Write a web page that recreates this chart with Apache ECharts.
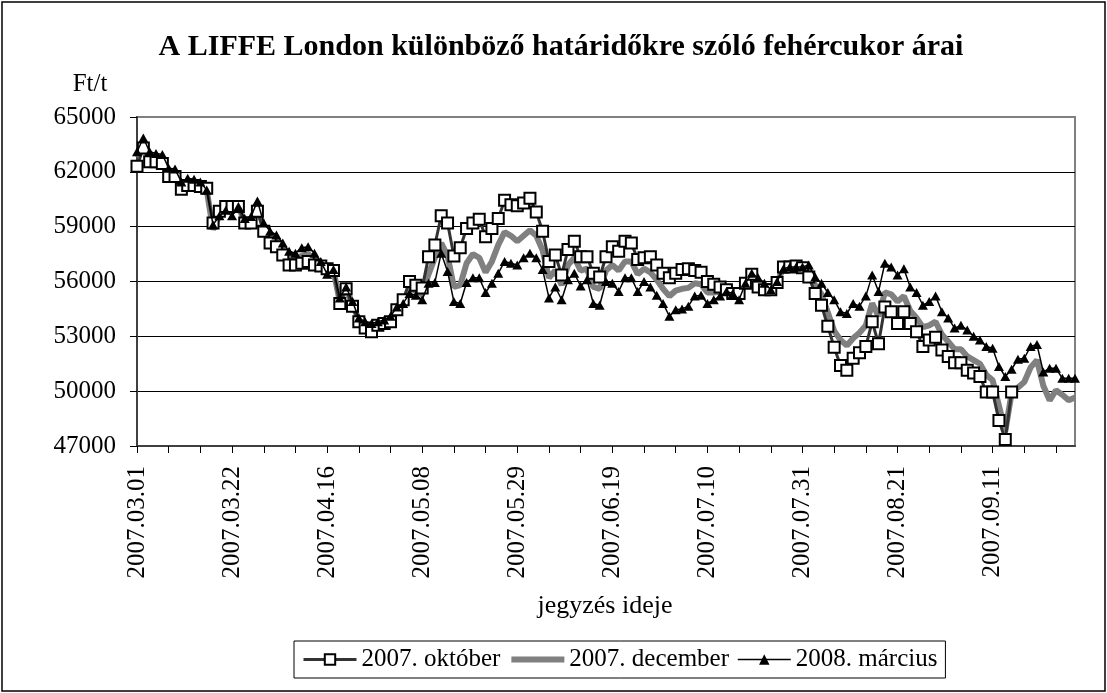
<!DOCTYPE html>
<html>
<head>
<meta charset="utf-8">
<script src="https://cdn.jsdelivr.net/npm/echarts@6/dist/echarts.min.js"></script>
<style>
html,body{margin:0;padding:0;background:#fff;}
#chart{width:1107px;height:693px;}
</style>
</head>
<body>
<div id="chart"></div>
<script>
// Trading days (categories)
const categories = [
 '2007.03.01','2007.03.02','2007.03.05','2007.03.06','2007.03.07','2007.03.08','2007.03.09','2007.03.12','2007.03.13','2007.03.14',
 '2007.03.15','2007.03.16','2007.03.19','2007.03.20','2007.03.21','2007.03.22','2007.03.23','2007.03.26','2007.03.27','2007.03.28',
 '2007.03.29','2007.03.30','2007.04.02','2007.04.03','2007.04.04','2007.04.05','2007.04.10','2007.04.11','2007.04.12','2007.04.13',
 '2007.04.16','2007.04.17','2007.04.18','2007.04.19','2007.04.20','2007.04.23','2007.04.24','2007.04.25','2007.04.26','2007.04.27',
 '2007.04.30','2007.05.01','2007.05.02','2007.05.03','2007.05.04','2007.05.08','2007.05.09','2007.05.10','2007.05.11','2007.05.14',
 '2007.05.15','2007.05.16','2007.05.17','2007.05.18','2007.05.21','2007.05.22','2007.05.23','2007.05.24','2007.05.25','2007.05.28',
 '2007.05.29','2007.05.30','2007.05.31','2007.06.01','2007.06.04','2007.06.05','2007.06.06','2007.06.07','2007.06.08','2007.06.11',
 '2007.06.12','2007.06.13','2007.06.14','2007.06.15','2007.06.18','2007.06.19','2007.06.20','2007.06.21','2007.06.22','2007.06.25',
 '2007.06.26','2007.06.27','2007.06.28','2007.06.29','2007.07.02','2007.07.03','2007.07.04','2007.07.05','2007.07.06','2007.07.09',
 '2007.07.10','2007.07.11','2007.07.12','2007.07.13','2007.07.16','2007.07.17','2007.07.18','2007.07.19','2007.07.20','2007.07.23',
 '2007.07.24','2007.07.25','2007.07.26','2007.07.27','2007.07.30','2007.07.31','2007.08.01','2007.08.02','2007.08.03','2007.08.06',
 '2007.08.07','2007.08.08','2007.08.09','2007.08.10','2007.08.13','2007.08.14','2007.08.15','2007.08.16','2007.08.17','2007.08.20',
 '2007.08.21','2007.08.22','2007.08.23','2007.08.24','2007.08.27','2007.08.28','2007.08.29','2007.08.30','2007.08.31','2007.09.03',
 '2007.09.04','2007.09.05','2007.09.06','2007.09.07','2007.09.10','2007.09.11','2007.09.12','2007.09.13','2007.09.14','2007.09.17',
 '2007.09.18','2007.09.19','2007.09.20','2007.09.21','2007.09.24','2007.09.25','2007.09.26','2007.09.27','2007.09.28'
];

const seriesNames = ['2007. október', '2007. december', '2008. március'];

const oct2007 = [
 62300,63300,62550,62550,62450,61750,61750,61050,61250,61250,
 61200,61100,59200,59850,60100,60100,60100,59200,59200,59850,
 58750,58100,57900,57450,56900,56900,57000,57100,56900,56850,
 56700,56600,54800,55600,54650,53800,53450,53250,53600,53700,
 53800,54450,55000,56000,55800,55650,57350,58000,59600,59200,
 57400,57850,58900,59200,59400,58450,58900,59450,60450,60200,
 60150,60300,60550,59800,58750,57100,57450,56350,57750,58200,
 57350,57350,56450,56250,57350,57900,57650,58200,58100,57200,
 57300,57350,56900,56450,56200,56450,56650,56700,56600,56500,
 56000,55850,55700,55550,55350,55350,55900,56400,55700,55550,
 55550,55950,56800,56800,56850,56750,56250,55350,54700,53550,
 52400,51400,51150,51800,52100,52450,53800,52600,54600,54350,
 53700,54350,53700,53250,52450,52800,52950,52250,51900,51550,
 51550,51150,51000,50800,49950,49950,48400,47350,49950
];

const dec2007 = [
 62800,63500,62800,62750,62700,62000,61950,61250,61450,61400,
 61300,61000,58850,59600,59950,59800,60050,59300,59350,60050,
 59000,58400,58200,57750,57300,57200,57400,57500,57200,56950,
 56500,56600,54900,55650,54750,53900,53600,53450,53700,53800,
 53950,54500,54900,55600,55500,55300,56400,57300,58100,57400,
 55700,55800,57000,57500,57300,56500,57100,58000,58700,58500,
 58200,58500,58800,58500,57700,56200,56600,55800,56900,57300,
 56600,56700,55700,55600,56600,56900,56600,57100,57100,56400,
 56700,56500,56100,55600,55200,55500,55600,55650,55900,55850,
 55400,55400,55450,55500,55350,55150,55900,56400,55950,55700,
 55550,55950,56750,56800,56800,56750,56550,55800,55300,54300,
 53300,52800,52500,52900,53200,53600,54800,54100,55400,55300,
 54900,55200,54400,54000,53500,53600,53800,53100,52700,52300,
 52300,51900,51700,51500,50900,50600,49200,47800,49900,50200,
 50500,51300,51700,50300,49500,50050,49800,49500,49650
];

const mar2008 = [
 63100,63850,63100,63000,62950,62200,62150,61450,61650,61600,
 61450,61000,59100,59600,59900,59600,60100,59450,59550,60400,
 59200,58750,58550,58100,57650,57550,57850,57900,57550,57100,
 56400,56650,55100,55700,54900,54000,53800,53700,53800,53900,
 54100,54600,54800,55350,55250,55000,55900,55950,57550,56550,
 54900,54800,55950,56200,56200,55400,55900,56450,57100,57000,
 56900,57300,57550,57300,56650,55100,55700,55000,56100,56450,
 55750,56100,54800,54700,56000,55900,55450,56200,56200,55450,
 56000,55700,55250,54800,54100,54450,54500,54650,55200,55250,
 54800,55000,55200,55450,55350,55000,55900,56450,56200,55900,
 55550,56000,56700,56800,56800,56800,56900,56250,55900,55400,
 55000,54350,54250,54800,54650,55200,56350,55450,57000,56800,
 56350,56700,55700,55400,54700,54900,55200,54350,54000,53450,
 53600,53350,53000,52800,52450,52350,51350,50800,51200,51750,
 51800,52450,52550,51050,51250,51250,50700,50700,50700
];

const yTicks = [47000, 50000, 53000, 56000, 59000, 62000, 65000];

const FONT = "'Liberation Serif', 'Times New Roman', serif";
const chart = echarts.init(document.getElementById('chart'), null, {renderer: 'canvas'});

chart.setOption({
  animation: false,
  backgroundColor: '#fff',
  grid: {
    left: 137, right: 32, top: 117, bottom: 247,
    show: true, borderColor: '#808080', borderWidth: 2, backgroundColor: 'transparent'
  },
  xAxis: {
    type: 'category',
    data: categories,
    boundaryGap: false,
    axisLine: {lineStyle: {color: '#404040', width: 2}},
    axisTick: {show: true, interval: 4, length: 7, lineStyle: {color: '#000', width: 1}},
    axisLabel: {interval: 14, rotate: 90, margin: 20, fontSize: 25, fontFamily: FONT, color: '#000'},
    splitLine: {show: false}
  },
  yAxis: {
    type: 'value',
    min: 47000,
    max: 65000,
    axisLine: {show: true, lineStyle: {color: '#404040', width: 2}},
    axisTick: {show: true, length: 7, customValues: yTicks, lineStyle: {color: '#000', width: 1}},
    axisLabel: {customValues: yTicks, margin: 21, fontSize: 25, fontFamily: FONT, color: '#000',
      formatter: function (v) { return String(v); }},
    splitLine: {show: true, showMaxLine: false, showMinLine: false, lineStyle: {color: '#000', width: 1}}
  },
  legend: {
    left: 294, top: 641,
    orient: 'horizontal',
    borderColor: '#000', borderWidth: 1,
    padding: [6, 8, 6, 8],
    itemWidth: 53, itemHeight: 13, itemGap: 8,
    textStyle: {fontSize: 25, fontFamily: FONT, color: '#000'},
    data: [
      {name: seriesNames[0], lineStyle: {color: '#333', width: 3}},
      {name: seriesNames[1], lineStyle: {color: '#808080', width: 6}, itemStyle: {opacity: 0}},
      {name: seriesNames[2], lineStyle: {color: '#000', width: 1.5}}
    ]
  },
  graphic: [
    {type: 'rect', shape: {x: 2, y: 2, width: 1103, height: 689}, style: {fill: 'none', stroke: '#000', lineWidth: 1.5}, silent: true},
    {type: 'text', x: 561, y: 47, style: {text: 'A LIFFE London különböző határidőkre szóló fehércukor árai', font: "bold 30px 'Liberation Serif'", fill: '#000', textAlign: 'center', textVerticalAlign: 'middle'}},
    {type: 'text', x: 90, y: 84, style: {text: 'Ft/t', font: "25px 'Liberation Serif'", fill: '#000', textAlign: 'center', textVerticalAlign: 'middle'}},
    {type: 'text', x: 605, y: 606, style: {text: 'jegyzés ideje', font: "26px 'Liberation Serif'", fill: '#000', textAlign: 'center', textVerticalAlign: 'middle'}}
  ],
  series: [
    {
      name: seriesNames[0], type: 'line', data: oct2007, z: 3,
      symbol: 'rect', symbolSize: 11, showAllSymbol: true,
      lineStyle: {color: '#333', width: 3},
      itemStyle: {color: '#fff', borderColor: '#000', borderWidth: 2}
    },
    {
      name: seriesNames[1], type: 'line', data: dec2007, z: 2,
      symbol: 'none',
      lineStyle: {color: '#808080', width: 6},
      itemStyle: {color: '#808080'}
    },
    {
      name: seriesNames[2], type: 'line', data: mar2008, z: 4,
      symbol: 'triangle', symbolSize: [10, 9], showAllSymbol: true,
      lineStyle: {color: '#000', width: 1.5},
      itemStyle: {color: '#000', borderColor: '#000', borderWidth: 0}
    }
  ]
});
</script>
</body>
</html>
